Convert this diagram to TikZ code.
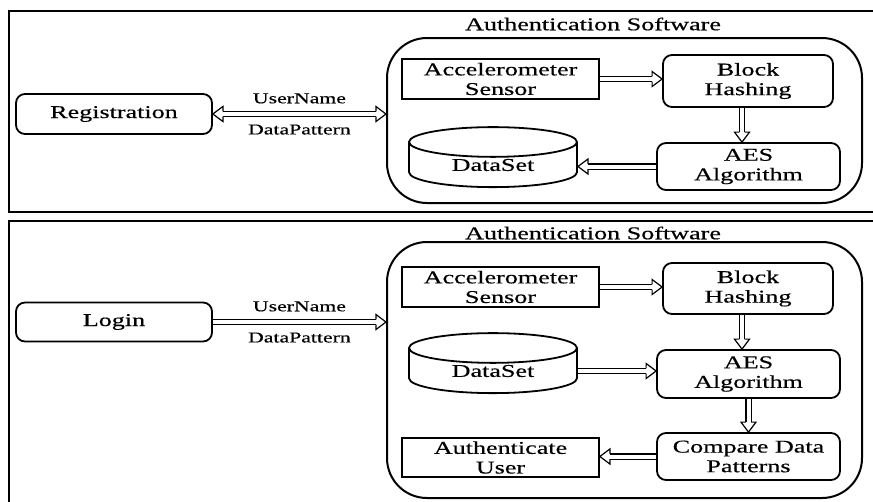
\documentclass[tikz,border=0pt]{standalone}
\usepackage{fontspec}
\setmainfont[FakeStretch=1.45, FakeBold=0.4]{Liberation Serif}
\usetikzlibrary{positioning,shapes.geometric,decorations.markings}

% hollow head of a double shaft
\newcommand{\flowhead}{\draw[line width=1.2pt, fill=white, shorten >=0pt, shorten <=0pt,
  line join=miter] (-10pt,2.6pt) -- (-10pt,7.5pt) -- (0pt,0pt) -- (-10pt,-7.5pt) -- (-10pt,-2.6pt);}

\tikzset{
  box/.style={draw, line width=1.8pt, align=center, inner sep=0pt,
    font=\fontsize{18}{19.6}\selectfont},
  sharpbox/.style={box, minimum width=197pt, minimum height=40pt},
  roundbox/.style={box, rounded corners=9pt},
  dbbox/.style={box, cylinder, shape border rotate=90, aspect=0.36,
    minimum width=168pt, minimum height=60pt},
  flow/.style={double, double distance=4pt, line width=1.2pt, shorten >=10pt,
    postaction={decorate, decoration={markings, mark=at position 1 with {\flowhead}}}},
  bothflow/.style={flow, shorten <=10pt,
    postaction={decorate, decoration={markings, mark=at position 0 with
      {\begin{scope}[xscale=-1]\flowhead\end{scope}}}}},
  lbl/.style={font=\fontsize{15}{17}\selectfont, inner sep=2pt},
  ttl/.style={font=\fontsize{18}{19.6}\selectfont, inner sep=0pt},
  frame/.style={draw, line width=2.6pt},
  swbox/.style={draw, line width=2pt, rounded corners=40pt, minimum width=475pt},
}

\begin{document}
\begin{tikzpicture}[x=1pt, y=-1pt]
\useasboundingbox (0,0) rectangle (873,501);
\clip (0,0) rectangle (873,501);

% frames
\draw[frame] (9,11) rectangle (900,212);
\draw[frame] (9,221) rectangle (900,540);

% registration
\node[swbox, minimum height=165pt] (sw1) at (624.5,120.5) {};
\node[ttl] (ttl1) at (593,24) {Authentication Software};
\node[roundbox, minimum width=196pt, minimum height=40pt] (reg) at (114,114) {Registration};
\node[sharpbox] (acc1) at (500.5,79) {Accelerometer\\Sensor};
\node[roundbox, minimum width=170pt, minimum height=52pt] (blk1) at (748,81) {Block\\Hashing};
\node[roundbox, minimum width=183pt, minimum height=47pt] (aes1) at (748.5,166.5) {AES\\Algorithm};
\node[dbbox] (ds1) at (493,165) {DataSet};

\draw[bothflow] (reg.east) -- (reg.east -| sw1.west)
  node[lbl, midway, above=8pt] (usr1) {UserName}
  node[lbl, midway, below=8pt] (pat1) {DataPattern};
\draw[flow] (acc1.east) -- (acc1.east -| blk1.west);
\draw[flow] ([xshift=-6pt]blk1.south) -- ([xshift=-6pt]blk1.south |- aes1.north);
\draw[flow] (aes1.west) -- (aes1.west -| ds1.east);

% login
\node[swbox, minimum height=256pt] (sw2) at (624.5,370) {};
\node[ttl] (ttl2) at (593,233) {Authentication Software};
\node[roundbox, minimum width=196pt, minimum height=39pt] (login) at (114,322) {Login};
\node[sharpbox] (acc2) at (500.5,287) {Accelerometer\\Sensor};
\node[roundbox, minimum width=170pt, minimum height=51pt] (blk2) at (748,288.5) {Block\\Hashing};
\node[dbbox] (ds2) at (493,371) {DataSet};
\node[roundbox, minimum width=183pt, minimum height=48pt] (aes2) at (748.5,374) {AES\\Algorithm};
\node[roundbox, minimum width=183pt, minimum height=47pt] (cmp2) at (748.5,456.5) {Compare Data\\Patterns};
\node[sharpbox, minimum height=39pt] (auth2) at (500.5,457.5) {Authenticate\\User};

\draw[flow] (login.east) -- (login.east -| sw2.west)
  node[lbl, midway, above=8pt] (usr2) {UserName}
  node[lbl, midway, below=8pt] (pat2) {DataPattern};
\draw[flow] (acc2.east) -- (acc2.east -| blk2.west);
\draw[flow] ([xshift=-6pt]blk2.south) -- ([xshift=-6pt]blk2.south |- aes2.north);
\draw[flow] (ds2.east) -- (ds2.east -| aes2.west);
\draw[flow] (aes2.south) -- (cmp2.north);
\draw[flow] (cmp2.west) -- (cmp2.west -| auth2.east);
\end{tikzpicture}
\end{document}
